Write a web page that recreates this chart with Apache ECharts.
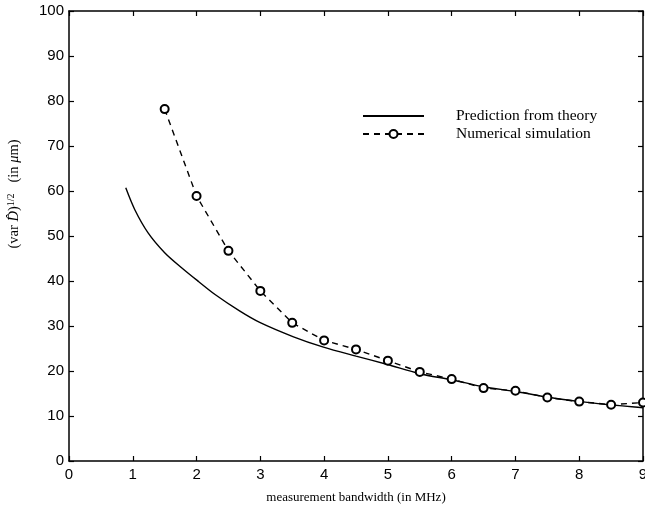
<!DOCTYPE html>
<html>
<head>
<meta charset="utf-8">
<script src="https://cdn.jsdelivr.net/npm/echarts@6/dist/echarts.min.js"></script>
<style>
  html, body { margin: 0; padding: 0; background: #fff; }
  #chart { width: 645px; height: 511px; }
</style>
</head>
<body>
<div id="chart"></div>
<script>
// values
var theoryX = [0.89, 1.03, 1.24, 1.5, 1.77, 2.03, 2.29, 2.68, 2.99, 3.52, 3.99, 4.5, 4.98, 5.5, 6.02, 6.49, 7.02, 7.54, 8.01, 8.48, 8.87, 9.0];
var theoryY = [60.7, 55.9, 50.7, 46.3, 42.9, 39.9, 37.0, 33.3, 30.8, 27.6, 25.3, 23.3, 21.5, 19.4, 18.0, 16.5, 15.4, 14.1, 13.2, 12.5, 12.0, 11.8];
var simX = [1.5, 2, 2.5, 3, 3.5, 4, 4.5, 5, 5.5, 6, 6.5, 7, 7.5, 8, 8.5, 9];
var simY = [78.2, 58.9, 46.7, 37.8, 30.7, 26.8, 24.8, 22.3, 19.8, 18.2, 16.2, 15.6, 14.1, 13.2, 12.5, 13.0];
var seriesNames = ["Prediction from theory", "Numerical simulation"];

var serif = "Liberation Serif";
var sans = "Liberation Sans";

function pairs(xs, ys) {
  return xs.map(function (x, i) { return [x, ys[i]]; });
}

var chart = echarts.init(document.getElementById("chart"));

var boxAxis = {
  axisLine: { show: true, onZero: false, lineStyle: { color: "#000", width: 1.5 } },
  axisTick: { show: true, inside: true, length: 5, lineStyle: { color: "#000", width: 1.2 } },
  splitLine: { show: false },
};

chart.setOption({
  animation: false,
  backgroundColor: "#fff",
  grid: { left: 69, right: 2, top: 11, bottom: 50, outerBoundsMode: "none", containLabel: false },
  legend: {
    orient: "vertical",
    left: 357,
    top: 102,
    itemWidth: 61,
    itemHeight: 10,
    itemGap: 0,
    data: [
      { name: seriesNames[0], itemStyle: { opacity: 0 } },
      { name: seriesNames[1] },
    ],
    textStyle: { fontFamily: serif, fontSize: 15.5, lineHeight: 18, color: "#000", padding: [0, 0, 0, 27] },
  },
  xAxis: [
    Object.assign({}, boxAxis, {
      type: "value",
      min: 0,
      max: 9,
      interval: 1,
      name: "measurement bandwidth (in MHz)",
      nameLocation: "middle",
      nameGap: 30,
      nameTextStyle: { fontFamily: serif, fontSize: 13, color: "#000" },
      axisLabel: { fontFamily: sans, fontSize: 15, color: "#000", margin: 6 },
    }),
    Object.assign({}, boxAxis, {
      type: "value", position: "top", min: 0, max: 9, interval: 1,
      axisLabel: { show: false },
    }),
  ],
  yAxis: [
    Object.assign({}, boxAxis, {
      type: "value",
      min: 0,
      max: 100,
      interval: 10,
      name: "{p|(var }{d|D̂}{p|)}{s|1/2}{p|   (in }{d|μ}{p|m)}",
      nameLocation: "middle",
      nameGap: 46,
      nameRotate: 90,
      nameTextStyle: {
        color: "#000",
        padding: [0, 0, 0, 84],
        rich: {
          p: { fontFamily: serif, fontSize: 14.5, color: "#000" },
          d: { fontFamily: serif, fontSize: 14.5, fontStyle: "italic", color: "#000" },
          s: { fontFamily: serif, fontSize: 10, color: "#000", verticalAlign: "top", padding: [0, 0, 7, 0] },
        },
      },
      axisLabel: { fontFamily: sans, fontSize: 15, color: "#000", margin: 5 },
    }),
    Object.assign({}, boxAxis, {
      type: "value", position: "right", min: 0, max: 100, interval: 10,
      axisLabel: { show: false },
    }),
  ],
  series: [
    {
      name: seriesNames[0],
      type: "line",
      data: pairs(theoryX, theoryY),
      smooth: 0.3,
      showSymbol: false,
      symbol: "none",
      lineStyle: { color: "#000", width: 1.4 },
      itemStyle: { color: "#000" },
    },
    {
      name: seriesNames[1],
      type: "line",
      data: pairs(simX, simY),
      symbol: "emptyCircle",
      symbolSize: 8,
      showAllSymbol: true,
      lineStyle: { color: "#000", width: 1.4, type: [6, 5] },
      itemStyle: { color: "#000", borderWidth: 1.1 },
    },
  ],
});
</script>
</body>
</html>
